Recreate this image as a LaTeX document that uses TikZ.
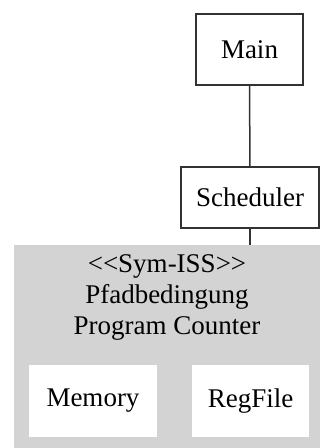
\documentclass[tikz,border=0pt]{standalone}
\usepackage{fontspec}
\setmainfont{Liberation Serif}
\definecolor{clustergray}{RGB}{211,211,211}
\definecolor{edgegray}{RGB}{50,50,50}
\begin{document}
\begin{tikzpicture}[x=1pt,y=-1pt,
  box/.style={draw=edgegray,line width=1.5pt,fill=white,inner sep=0pt,font=\fontsize{27}{30}\selectfont},
  inbox/.style={draw=none,fill=white,inner sep=0pt,font=\fontsize{27}{30}\selectfont},
  conn/.style={draw=edgegray,line width=1.5pt}]
\useasboundingbox (0,0) rectangle (320,448);
\node[draw=none,fill=clustergray,anchor=north west,minimum width=310pt,minimum height=205pt,inner sep=0pt] (cluster) at (14,245) {};
\node[align=center,font=\fontsize{27}{31}\selectfont] (label) at (167,297) {{<}{<}Sym-ISS{>}{>}\\Pfadbedingung\\Program Counter};
\node[box,minimum width=107pt,minimum height=71pt] (main) at (249.5,49.5) {Main};
\node[box,minimum width=138pt,minimum height=61pt] (sched) at (250,197.5) {Scheduler};
\node[inbox,minimum width=128pt,minimum height=72pt] (mem) at (93,401) {Memory};
\node[inbox,minimum width=117pt,minimum height=72pt] (reg) at (250.5,401) {RegFile};
\draw[conn] (main.south) -- (sched.north);
\draw[conn] (sched.south) -- (sched.south |- cluster.north);
\end{tikzpicture}
\end{document}
